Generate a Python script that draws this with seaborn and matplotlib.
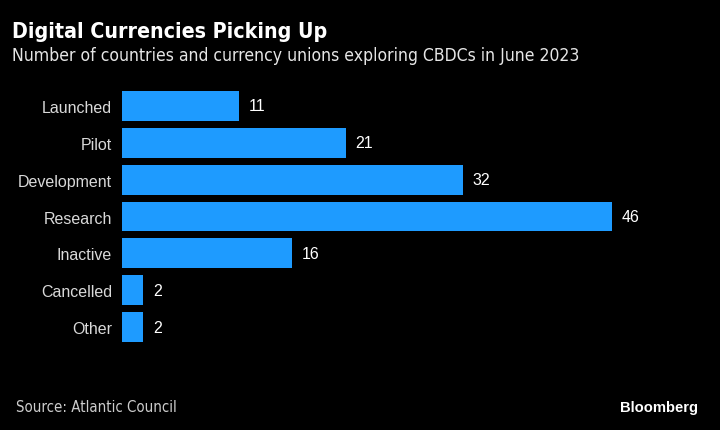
import matplotlib
matplotlib.use("Agg")
import matplotlib.pyplot as plt
import seaborn as sns
import pandas as pd

categories = ["Launched", "Pilot", "Development", "Research", "Inactive", "Cancelled", "Other"]
values = [11, 21, 32, 46, 16, 2, 2]

title = "Digital Currencies Picking Up"
subtitle = "Number of countries and currency unions exploring CBDCs in June 2023"
source = "Source: Atlantic Council"

sns.set_theme(style="dark")
plt.rcParams['font.family'] = ['DejaVu Sans']

BG = "#000000"
BAR = "#1E9BFF"
PXU = 10.65  # pixels per unit

df = pd.DataFrame({"category": categories, "value": values})

fig = plt.figure(figsize=(7.2, 4.31), dpi=100, facecolor=BG)
top_px, bot_px = 88.5, 346.5
ax = fig.add_axes([122/720, 1 - bot_px/431, (700-122)/720, (bot_px-top_px)/431])
ax.set_facecolor(BG)

sns.barplot(data=df, x="value", y="category", color=BAR, saturation=1,
            width=0.81, ax=ax, orient="h", linewidth=0, edgecolor=BAR)

ax.set_xlim(0, (700-122)/PXU)
ax.set_ylim(6.5, -0.5)
ax.set_xlabel("")
ax.set_ylabel("")
ax.set_xticks([])
for s in ax.spines.values():
    s.set_visible(False)
ax.tick_params(axis="y", length=0, pad=7.2, labelsize=11.5, labelcolor="#d9d9d9")
for lab in ax.get_yticklabels():
    lab.set_fontfamily("Liberation Sans")
ax.grid(False)

for i, v in enumerate(values):
    ax.text(v + 0.9, i, str(v), va="center", ha="left", color="#ffffff",
            fontsize=11.5, family="Liberation Sans")

fig.text(12/720, 1 - 38/431, title, color="#ffffff", fontsize=15.3,
         fontweight="bold", va="baseline", ha="left", family="DejaVu Sans",
         fontstretch="condensed")
fig.text(12/720, 1 - 61/431, subtitle, color="#e6e6e6", fontsize=12.6,
         va="baseline", ha="left", family="DejaVu Sans", fontstretch="condensed")
fig.text(16/720, 1 - 412/431, source, color="#cccccc", fontsize=10.8,
         va="baseline", ha="left", family="DejaVu Sans", fontstretch="condensed")
fig.text(698/720, 1 - 412/431, "Bloomberg", color="#ffffff", fontsize=10.6,
         fontweight="bold", va="baseline", ha="right", family="Liberation Sans")

fig.savefig("out.png", dpi=100, facecolor=BG)
